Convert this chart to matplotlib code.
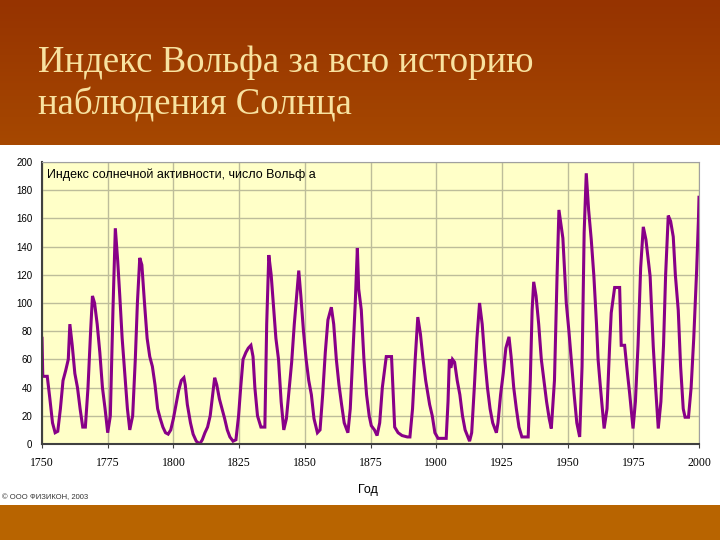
import numpy as np
import matplotlib
matplotlib.use('Agg')
import matplotlib.pyplot as plt
from matplotlib.patches import Rectangle

# Wolf number (year, value)
years = [1750.0, 1750.3, 1752.0, 1753, 1754, 1755, 1756, 1757, 1758, 1759, 1760, 1760.6,
         1761.5, 1762.5, 1763.5, 1764.5, 1765.5, 1766.5, 1767.5, 1768.5, 1769.2, 1770,
         1771, 1772, 1773, 1774, 1775, 1776, 1777, 1777.9, 1778.8, 1779.6, 1780.5, 1781.5,
         1782.5, 1783.4, 1784.5, 1785.5, 1786.3, 1787.2, 1788, 1789, 1790, 1791, 1792,
         1793, 1794, 1795, 1796, 1797, 1798, 1799, 1800, 1801, 1802, 1803, 1804, 1804.5,
         1805.3, 1806.5, 1807.5, 1808.7, 1810, 1811, 1812, 1813, 1814, 1815.7, 1816.5,
         1817.5, 1818.5, 1819.5, 1820.5, 1821.5, 1822.7, 1823.8, 1824.8, 1825.6, 1826.5,
         1827.6, 1828.5, 1829.5, 1830.3, 1831, 1832, 1833.3, 1834.8, 1835.5, 1836.3,
         1837.2, 1838, 1839, 1840, 1841, 1842, 1843, 1844, 1845, 1846, 1847.7, 1848.5,
         1849.5, 1850.5, 1851.5, 1852.5, 1853.5, 1854.8, 1855.8, 1856.8, 1857.8, 1858.8,
         1860.1, 1861, 1862, 1863, 1864, 1865, 1866.4, 1867.3, 1868.2, 1869.2, 1870,
         1870.5, 1871.5, 1872.5, 1873.5, 1874.5, 1875.3, 1876.5, 1877.5, 1878.5, 1879.5,
         1880.5, 1881, 1883, 1884.2, 1885.5, 1887, 1889, 1890, 1891, 1892, 1893, 1894,
         1895, 1896, 1897.5, 1898.5, 1899.5, 1900.7, 1903.8, 1904.5, 1905, 1905.6, 1906.2,
         1907, 1908, 1909, 1910, 1911, 1912.7, 1913.5, 1914.5, 1915.5, 1916.5, 1917.5,
         1918.5, 1919.5, 1920.5, 1921.5, 1922.9, 1923.5, 1924.5, 1925.5, 1926.5, 1927.7,
         1928.5, 1929.5, 1930.5, 1931.5, 1932.6, 1935, 1935.8, 1936.5, 1937.1, 1938, 1939,
         1940, 1941, 1942, 1943, 1943.8, 1945, 1946, 1946.7, 1948.2, 1949.5, 1950.5,
         1951.4, 1952.5, 1953.5, 1954.6, 1955.5, 1956.3, 1957.1, 1958, 1959, 1960, 1961,
         1961.6, 1962.5, 1963.9, 1965, 1966, 1966.6, 1967.9, 1969.8, 1970.4, 1971.7,
         1972.5, 1973.6, 1974.9, 1975.8, 1976.8, 1977.8, 1978.8, 1979.8, 1981.4, 1982.6,
         1983.5, 1984.5, 1985.5, 1986.5, 1987.3, 1988.3, 1989.2, 1990.2, 1991, 1992.1,
         1993, 1994, 1994.7, 1996, 1997, 1998, 1999.1, 1999.8, 2000]
wolf = [75, 48, 48, 32, 15, 8, 9, 25, 45, 52, 60, 85,
        70, 50, 40, 25, 12, 12, 40, 80, 105, 100,
        85, 65, 40, 25, 8, 20, 95, 153, 130, 105, 75, 50,
        25, 10, 20, 60, 100, 132, 127, 100, 75, 62, 55,
        42, 25, 18, 12, 8, 7, 10, 18, 28, 38, 45, 47, 42,
        28, 15, 7, 2, 0, 3, 8, 12, 20, 47, 42,
        32, 25, 18, 10, 5, 2, 3, 20, 40, 60,
        65, 68, 70, 62, 40, 20, 12, 12, 85, 134,
        120, 100, 75, 60, 30, 10, 18, 38, 58, 85, 123, 105,
        80, 60, 45, 35, 18, 8, 10, 35, 65, 88,
        97, 85, 60, 42, 28, 15, 8, 25, 60, 100, 139,
        110, 95, 60, 35, 20, 13, 10, 6, 15, 40,
        55, 62, 62, 12, 8, 6, 5, 5, 25, 60, 90, 78,
        60, 45, 28, 20, 8, 4, 4, 30, 60, 54, 60,
        58, 45, 35, 20, 10, 2, 8, 40, 75, 100, 85,
        60, 40, 25, 15, 8, 15, 35, 50, 68, 76,
        62, 40, 25, 12, 5, 5, 45, 95, 115, 105, 85,
        60, 45, 30, 18, 11, 45, 120, 166, 146, 100, 80,
        60, 35, 15, 5, 55, 150, 192, 166, 145, 119, 85,
        60, 40, 11, 25, 70, 93, 111, 111, 70, 70,
        55, 36, 11, 30, 70, 125, 154, 145, 119, 69,
        40, 11, 30, 70, 120, 162, 158, 147, 120, 95,
        55, 25, 19, 19, 40, 75, 123, 160, 175]

x_ticks = [1750, 1775, 1800, 1825, 1850, 1875, 1900, 1925, 1950, 1975, 2000]
y_ticks = [0, 20, 40, 60, 80, 100, 120, 140, 160, 180, 200]

W, H = 720, 540
fig = plt.figure(figsize=(7.2, 5.4), dpi=100)
fig.patch.set_facecolor('white')

# slide background: brown header with gradient and orange footer
bg = fig.add_axes([0, 0, 1, 1], zorder=0)
bg.set_xlim(0, W)
bg.set_ylim(H, 0)
bg.axis('off')
grad = np.linspace(0, 1, 100).reshape(-1, 1)
c_top = np.array([0x96, 0x33, 0x00]) / 255
c_bot = np.array([0xA6, 0x48, 0x00]) / 255
img = c_top + grad[:, :, None] * (c_bot - c_top)
img = np.repeat(img, 2, axis=1)
bg.imshow(img, extent=[0, W, 145, 0], aspect='auto')
bg.add_patch(Rectangle((0, 505), W, 35, color='#B86400', lw=0))
bg.set_xlim(0, W)
bg.set_ylim(H, 0)

bg.text(38, 72, 'Индекс Вольфа за всю историю', color='#F8E2A0',
        fontsize=26.5, family='Liberation Serif', va='baseline')
bg.text(38, 115, 'наблюдения Солнца', color='#F8E2A0',
        fontsize=26.5, family='Liberation Serif', va='baseline')
bg.text(368, 490, 'Год', fontsize=9, family='Liberation Sans', ha='center', va='center')
bg.text(2, 498, '© ООО ФИЗИКОН, 2003', fontsize=5.5, family='Liberation Sans',
        color='#333333', va='center')

# chart
ax = fig.add_axes([42 / W, 1 - 444 / H, (699 - 42) / W, (444 - 162) / H], zorder=1)
ax.set_facecolor('#FFFFC8')
ax.plot(years, wolf, color='#880088', lw=2.2, solid_joinstyle='miter')
ax.set_xlim(1750, 2000)
ax.set_ylim(0, 200)
ax.set_xticks(x_ticks)
ax.set_yticks(y_ticks)
ax.grid(True, color='#BDBD9A', lw=1)
ax.set_axisbelow(True)
ax.tick_params(axis='x', length=3, color='#404040', pad=6)
ax.tick_params(axis='y', length=0, pad=7)
for lab in ax.get_xticklabels():
    lab.set_family('Liberation Serif')
    lab.set_fontsize(8.5)
for lab in ax.get_yticklabels():
    lab.set_family('Liberation Sans')
    lab.set_fontsize(7)
ax.spines['left'].set_color('#404040')
ax.spines['bottom'].set_color('#404040')
ax.spines['left'].set_linewidth(1.5)
ax.spines['bottom'].set_linewidth(1.5)
ax.spines['top'].set_color('#A0A0A0')
ax.spines['right'].set_color('#A0A0A0')
ax.text(0.007, 0.955, 'Индекс солнечной активности, число Вольф а', transform=ax.transAxes,
        fontsize=9, family='Liberation Sans', va='center')

fig.savefig('out.png', dpi=100)
